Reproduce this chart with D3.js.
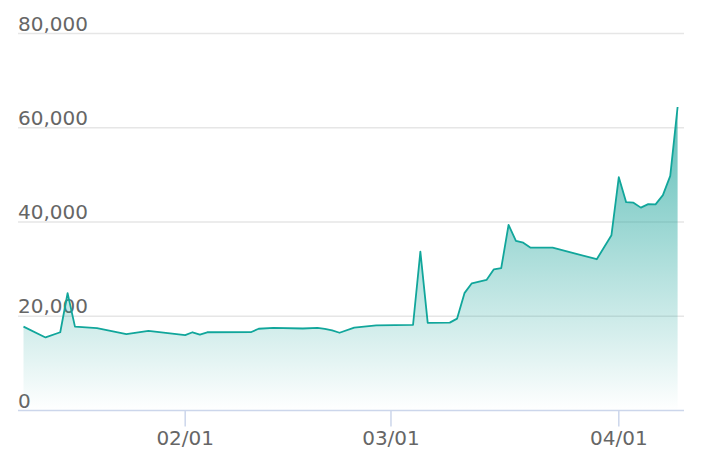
<!DOCTYPE html>
<html>
<head>
<meta charset="utf-8">
<script src="https://cdn.jsdelivr.net/npm/d3@7"></script>
<style>
  body { margin: 0; background: #fff; }
  text { font-family: "DejaVu Sans", sans-serif; }
</style>
</head>
<body>
<script>
var width = 704;
var height = 476;

// daily values (only the turning points)
var dates = ["2021-01-10", "2021-01-13", "2021-01-15", "2021-01-16", "2021-01-17",
  "2021-01-20", "2021-01-24", "2021-01-27", "2021-02-01", "2021-02-02",
  "2021-02-03", "2021-02-04", "2021-02-10", "2021-02-11", "2021-02-13",
  "2021-02-17", "2021-02-19", "2021-02-20", "2021-02-21", "2021-02-22",
  "2021-02-24", "2021-02-27", "2021-03-04", "2021-03-05", "2021-03-06",
  "2021-03-09", "2021-03-10", "2021-03-11", "2021-03-12", "2021-03-14",
  "2021-03-15", "2021-03-16", "2021-03-17", "2021-03-18", "2021-03-19",
  "2021-03-20", "2021-03-23", "2021-03-29", "2021-03-31", "2021-04-01",
  "2021-04-02", "2021-04-03", "2021-04-04", "2021-04-05", "2021-04-06",
  "2021-04-07", "2021-04-08", "2021-04-09"];
var values = [17800, 15500, 16600, 24900, 17800,
  17500, 16200, 16900, 16000, 16600,
  16100, 16600, 16650, 17350, 17550,
  17400, 17550, 17300, 17000, 16500,
  17600, 18050, 18150, 33700, 18600,
  18650, 19500, 24900, 27000, 27700,
  29950, 30200, 39400, 36000, 35600,
  34550, 34550, 32100, 37200, 49500,
  44200, 44100, 43050, 43800, 43750,
  45700, 49800, 64400];

var yTicks = [0, 20000, 40000, 60000, 80000];
var xTicks = ["2021-02-01", "2021-03-01", "2021-04-01"];

var parse = d3.timeParse("%Y-%m-%d");
var data = dates.map((d, i) => ({date: parse(d), value: values[i]}));

var svg = d3.select("body").append("svg")
  .attr("width", width)
  .attr("height", height);

var x = d3.scaleTime()
  .domain([parse("2021-01-10"), parse("2021-04-09")])
  .range([23.5, 677.6]);

var y = d3.scaleLinear()
  .domain([0, 80000])
  .range([410.5, 33.5]);

var left = 18, right = 684;

// gridlines + y labels
svg.selectAll("line.grid")
  .data(yTicks.slice(1))
  .enter().append("line")
  .attr("class", "grid")
  .attr("x1", left).attr("x2", right)
  .attr("y1", d => y(d)).attr("y2", d => y(d))
  .attr("stroke", "#e6e6e6")
  .attr("stroke-width", 1.5);

svg.selectAll("text.ylab")
  .data(yTicks)
  .enter().append("text")
  .attr("class", "ylab")
  .attr("x", left)
  .attr("y", d => y(d) - 3)
  .attr("fill", "#666")
  .attr("font-size", "20px")
  .text(d => d3.format(",")(d));

// area with gradient
var defs = svg.append("defs");
var grad = defs.append("linearGradient")
  .attr("id", "fillGrad")
  .attr("gradientUnits", "userSpaceOnUse")
  .attr("x1", 0).attr("x2", 0)
  .attr("y1", y(d3.max(values))).attr("y2", y(0));
grad.append("stop").attr("offset", "0%").attr("stop-color", "#1aa39a").attr("stop-opacity", 0.72);
grad.append("stop").attr("offset", "100%").attr("stop-color", "#1aa39a").attr("stop-opacity", 0);

var area = d3.area()
  .x(d => x(d.date))
  .y0(y(0))
  .y1(d => y(d.value));

var line = d3.line()
  .x(d => x(d.date))
  .y(d => y(d.value));

svg.append("path")
  .datum(data)
  .attr("d", area)
  .attr("fill", "url(#fillGrad)");

svg.append("path")
  .datum(data)
  .attr("d", line)
  .attr("fill", "none")
  .attr("stroke", "#11a69b")
  .attr("stroke-width", 1.8)
  .attr("stroke-linejoin", "round");

// x axis
svg.append("line")
  .attr("x1", left).attr("x2", right)
  .attr("y1", y(0)).attr("y2", y(0))
  .attr("stroke", "#ccd6eb")
  .attr("stroke-width", 1.5);

var xt = svg.selectAll("g.xtick")
  .data(xTicks.map(parse))
  .enter().append("g")
  .attr("class", "xtick")
  .attr("transform", d => "translate(" + x(d) + ",0)");

xt.append("line")
  .attr("y1", y(0)).attr("y2", y(0) + 16)
  .attr("stroke", "#ccd6eb")
  .attr("stroke-width", 1.5);

xt.append("text")
  .attr("y", 445)
  .attr("text-anchor", "middle")
  .attr("fill", "#666")
  .attr("font-size", "20px")
  .text(d3.timeFormat("%m/%d"));
</script>
</body>
</html>
